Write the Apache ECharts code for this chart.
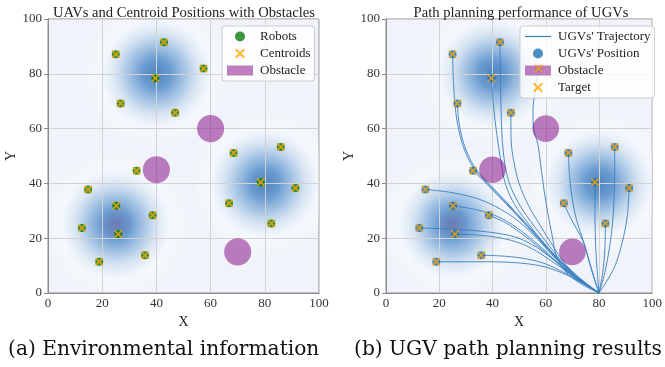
<!DOCTYPE html>
<html>
<head>
<meta charset="utf-8">
<script src="https://cdn.jsdelivr.net/npm/echarts@6/dist/echarts.min.js"></script>
<style>
  html, body { margin: 0; padding: 0; background: #ffffff; }
  #chart { width: 665px; height: 367px; }
</style>
</head>
<body>
<div id="chart"></div>
<script>
// ---- data ----------------------------------------------------------
const robotX = [25.0, 42.8, 39.6, 57.4, 26.8, 46.9, 68.5, 85.9, 32.7, 14.8,
                25.2, 38.6, 12.5, 25.9, 18.9, 35.8, 78.5, 91.3, 66.8, 82.4];
const robotY = [87.1, 91.5, 78.4, 81.9, 69.2, 65.8, 51.1, 53.3, 44.6, 37.8,
                31.8, 28.4, 23.7, 21.5, 11.4, 13.8, 40.4, 38.3, 32.8, 25.4];

// obstacle centre x, centre y, radius
const obstacles = [[60, 60, 5], [40, 45, 5], [70, 15, 5]];

// centres of the coverage density field and its reach (data units)
const densityCenters = [[25, 25], [40, 80], [80, 40]];
const densityReach = 27;
// darker core of the density field
const densityCore = [[25, 25, 6]];

// UGV paths, robot position -> goal at (80, 0)
const trajectories = [
  [[25.0, 87.1], [25.4, 76], [26.2, 66], [27.8, 57.5], [30.0, 51], [33.0, 45.5], [38.0, 40], [45.0, 33], [52.0, 25.6], [59.0, 18.2], [65.0, 11.8], [71.5, 5.8], [80, 0]],
  [[26.8, 69.2], [27.3, 63], [28.6, 56.5], [30.8, 50.5], [33.6, 45.5], [38.4, 40.2], [45.3, 33.1], [52.3, 25.7], [59.3, 18.2], [65.3, 11.8], [71.7, 5.8], [80, 0]],
  [[32.7, 44.6], [38.0, 39.6], [45.0, 32.6], [52.0, 25.4], [59.0, 17.9], [65.0, 11.6], [71.3, 5.8], [80, 0]],
  [[39.6, 78.4], [40.4, 68], [41.6, 58], [43.0, 49], [44.8, 40], [48.5, 32], [54.5, 24], [60.8, 16.6], [66.0, 11], [72.0, 5.6], [80, 0]],
  [[42.8, 91.5], [43.0, 78], [43.3, 64], [44.0, 52], [46.0, 41], [50.0, 32.5], [55.8, 24.2], [61.5, 17], [66.5, 11], [72.3, 5.6], [80, 0]],
  [[46.9, 65.8], [47.0, 56], [48.0, 48], [50.0, 40], [53.5, 32], [58.0, 24.5], [62.5, 17.5], [67.0, 11], [72.6, 5.6], [80, 0]],
  [[57.4, 81.9], [56.0, 74], [55.2, 66], [55.4, 60], [57.0, 54.5], [58.2, 46], [59.3, 38], [60.8, 29], [62.4, 21], [64.0, 13.5], [67.3, 8], [72.5, 3.8], [80, 0]],
  [[68.5, 51.1], [69.0, 42], [70.0, 34], [71.6, 26.5], [73.6, 20.5], [75.6, 14], [77.6, 7], [80, 0]],
  [[66.8, 32.8], [69.0, 28], [71.6, 23.4], [74.2, 18.5], [76.2, 12], [78.1, 6], [80, 0]],
  [[78.5, 40.4], [78.5, 28], [78.8, 16], [79.4, 7], [80, 0]],
  [[85.9, 53.3], [85.8, 40], [85.3, 28], [84.0, 17], [82.2, 7.5], [80, 0]],
  [[82.4, 25.4], [82.2, 16], [81.4, 7.5], [80, 0]],
  [[91.3, 38.3], [90.6, 28], [88.6, 18], [85.6, 9], [80, 0]],
  [[14.8, 37.8], [25.0, 36.6], [35.0, 34.2], [43.0, 30.6], [50.0, 26], [57.0, 19.6], [63.0, 13.2], [70.0, 6.6], [80, 0]],
  [[25.2, 31.8], [33.0, 30.6], [40.0, 28.7], [47.0, 25.2], [54.0, 20.2], [60.0, 15.2], [66.0, 9.7], [72.0, 5.1], [80, 0]],
  [[38.6, 28.4], [45.0, 25.6], [51.0, 21.6], [57.0, 17.1], [63.0, 12.1], [70.0, 6.2], [80, 0]],
  [[12.5, 23.7], [25.0, 23.3], [38.0, 22.3], [48.0, 20.6], [55.0, 17.6], [61.0, 13.6], [67.0, 9.1], [73.0, 4.6], [80, 0]],
  [[25.9, 21.5], [35.0, 21.1], [45.0, 19.7], [53.0, 17.1], [60.0, 13.1], [66.0, 9.1], [72.0, 5.1], [80, 0]],
  [[18.9, 11.4], [35.0, 11.4], [48.0, 11.1], [58.0, 9.9], [66.0, 7.4], [73.0, 4.0], [80, 0]],
  [[35.8, 13.8], [45.0, 13.4], [53.0, 12.4], [60.0, 10.6], [67.0, 7.4], [73.0, 4.1], [80, 0]]
];

const axisMin = 0, axisMax = 100, axisStep = 20;

// ---- styling -------------------------------------------------------
const SERIF = '"Liberation Serif", "Times New Roman", serif';
const CROSS = 'path://M0,1.4L1.4,0L5,3.6L8.6,0L10,1.4L6.4,5L10,8.6L8.6,10L5,6.4L1.4,10L0,8.6L3.6,5Z';
const DASH = 'path://M0,0H28V1.3H0Z';
const OBST_COLOR = 'rgba(128,0,128,0.5)';
const CROSS_COLOR = '#ffa500';
const PATH_COLOR = '#3b7fbf';

const points = robotX.map((x, i) => [x, robotY[i]]);

function clipRect(params) {
  const cs = params.coordSys;
  return { type: 'rect', shape: { x: cs.x, y: cs.y, width: cs.width, height: cs.height } };
}

function densitySeries(idx) {
  return {
    type: 'custom', xAxisIndex: idx, yAxisIndex: idx, z: 1, silent: true,
    data: densityCenters.map(c => [c[0], c[1], densityReach]),
    renderItem(params, api) {
      const c = api.coord([api.value(0), api.value(1)]);
      const r = api.size([api.value(2), 0])[0];
      return {
        type: 'circle',
        shape: { cx: c[0], cy: c[1], r: r },
        clipPath: clipRect(params),
        style: {
          fill: {
            type: 'radial', x: 0.5, y: 0.5, r: 0.5,
            colorStops: [
              { offset: 0.00, color: 'rgba(70,126,188,0.95)' },
              { offset: 0.20, color: 'rgba(88,143,202,0.88)' },
              { offset: 0.40, color: 'rgba(135,177,220,0.68)' },
              { offset: 0.58, color: 'rgba(200,219,239,0.5)' },
              { offset: 0.74, color: 'rgba(248,251,255,0.45)' },
              { offset: 0.88, color: 'rgba(255,255,255,0.2)' },
              { offset: 1.00, color: 'rgba(255,255,255,0)' }
            ]
          }
        }
      };
    }
  };
}

function coreSeries(idx) {
  return {
    type: 'custom', xAxisIndex: idx, yAxisIndex: idx, z: 1, silent: true,
    data: densityCore,
    renderItem(params, api) {
      const c = api.coord([api.value(0), api.value(1)]);
      const r = api.size([api.value(2), 0])[0];
      return {
        type: 'circle',
        shape: { cx: c[0], cy: c[1], r: r },
        style: {
          fill: {
            type: 'radial', x: 0.5, y: 0.5, r: 0.5,
            colorStops: [
              { offset: 0, color: 'rgba(150,110,160,0.45)' },
              { offset: 0.5, color: 'rgba(140,120,170,0.25)' },
              { offset: 1, color: 'rgba(120,130,180,0)' }
            ]
          }
        }
      };
    }
  };
}

function obstacleSeries(idx) {
  return {
    name: 'Obstacle', type: 'custom', xAxisIndex: idx, yAxisIndex: idx, z: 5,
    itemStyle: { color: OBST_COLOR },
    data: obstacles,
    renderItem(params, api) {
      const c = api.coord([api.value(0), api.value(1)]);
      const r = api.size([api.value(2), 0])[0];
      return { type: 'circle', shape: { cx: c[0], cy: c[1], r: r }, style: { fill: OBST_COLOR } };
    }
  };
}

function grid(left) {
  return {
    left: left, width: 271, top: 19, height: 274,
    show: true, backgroundColor: '#f0f4fa', borderColor: '#8c8c8c', borderWidth: 1
  };
}

function xAxis(idx) {
  return {
    gridIndex: idx, type: 'value', min: axisMin, max: axisMax, interval: axisStep, z: 3,
    name: 'X', nameLocation: 'middle', nameGap: 10,
    nameTextStyle: { fontFamily: SERIF, fontSize: 14, color: '#222' },
    axisLine: { show: true, lineStyle: { color: '#8c8c8c', width: 1 } },
    axisTick: { show: false },
    axisLabel: { margin: 4, fontFamily: SERIF, fontSize: 13, color: '#333' },
    splitLine: { show: true, lineStyle: { color: '#d2d2d2', width: 1 } }
  };
}

function yAxis(idx) {
  return {
    gridIndex: idx, type: 'value', min: axisMin, max: axisMax, interval: axisStep, z: 3,
    name: 'Y', nameLocation: 'middle', nameGap: 27,
    nameTextStyle: { fontFamily: SERIF, fontSize: 14, color: '#222' },
    axisLine: { show: true, lineStyle: { color: '#8c8c8c', width: 1 } },
    axisTick: { show: true, inside: false, length: 4, lineStyle: { color: '#8c8c8c' } },
    axisLabel: { margin: 6, fontFamily: SERIF, fontSize: 13, color: '#333' },
    splitLine: { show: true, lineStyle: { color: '#d2d2d2', width: 1 } }
  };
}

function legend(left, top, names, icons) {
  return {
    orient: 'vertical', left: left, top: top, z: 8,
    data: names.map((n, i) => ({ name: n, icon: icons[i] })),
    itemWidth: 26, itemHeight: 10, itemGap: 4,
    padding: [4, 4, 4, 5],
    backgroundColor: 'rgba(255,255,255,0.8)',
    borderColor: '#cccccc', borderWidth: 1, borderRadius: 3,
    textStyle: { fontFamily: SERIF, fontSize: 13, color: '#222', padding: [0, 0, 0, 2] },
    selectedMode: false
  };
}

const series = [
  densitySeries(0),
  densitySeries(1),
  coreSeries(0),
  coreSeries(1),
  obstacleSeries(0),
  obstacleSeries(1),
  {
    name: 'Robots', type: 'scatter', xAxisIndex: 0, yAxisIndex: 0, z: 6,
    symbol: 'circle', symbolSize: 8, itemStyle: { color: '#0b7a0b' }, data: points
  },
  {
    name: 'Centroids', type: 'scatter', xAxisIndex: 0, yAxisIndex: 0, z: 7,
    symbol: CROSS, symbolSize: 8.5, itemStyle: { color: CROSS_COLOR }, data: points
  },
  {
    name: "UGVs' Position", type: 'scatter', xAxisIndex: 1, yAxisIndex: 1, z: 6,
    symbol: 'circle', symbolSize: 8, itemStyle: { color: '#1f6fb0' }, data: points
  },
  {
    name: 'Target', type: 'scatter', xAxisIndex: 1, yAxisIndex: 1, z: 9,
    symbol: CROSS, symbolSize: 8.5, itemStyle: { color: CROSS_COLOR }, data: points
  }
];

trajectories.forEach(path => {
  series.push({
    name: "UGVs' Trajectory", type: 'line', xAxisIndex: 1, yAxisIndex: 1, z: 4,
    data: path, smooth: 0.35, symbol: 'none', silent: true,
    lineStyle: { color: PATH_COLOR, width: 1, opacity: 0.9 },
    itemStyle: { color: PATH_COLOR }
  });
});

const chart = echarts.init(document.getElementById('chart'), null, { renderer: 'canvas' });
chart.setOption({
  animation: false,
  backgroundColor: '#ffffff',
  title: [
    { text: 'UAVs and Centroid Positions with Obstacles', left: 179, textAlign: 'center', top: 1,
      textStyle: { fontFamily: SERIF, fontSize: 14.6, fontWeight: 'normal', color: '#222' } },
    { text: 'Path planning performance of UGVs', left: 516, textAlign: 'center', top: 1,
      textStyle: { fontFamily: SERIF, fontSize: 14.6, fontWeight: 'normal', color: '#222' } }
  ],
  grid: [grid(48), grid(386)],
  xAxis: [xAxis(0), xAxis(1)],
  yAxis: [yAxis(0), yAxis(1)],
  legend: [
    legend(222, 26, ['Robots', 'Centroids', 'Obstacle'], ['circle', CROSS, 'rect']),
    legend(520, 26, ["UGVs' Trajectory", "UGVs' Position", 'Obstacle', 'Target'], [DASH, 'circle', 'rect', CROSS])
  ],
  graphic: [
    { type: 'text', left: 8, top: 340, style: { text: '(a) Environmental information', font: '20.2px "DejaVu Serif"', fill: '#111' } },
    { type: 'text', left: 354, top: 340, style: { text: '(b) UGV path planning results', font: '20.2px "DejaVu Serif"', fill: '#111' } }
  ],
  series: series
});
</script>
</body>
</html>
